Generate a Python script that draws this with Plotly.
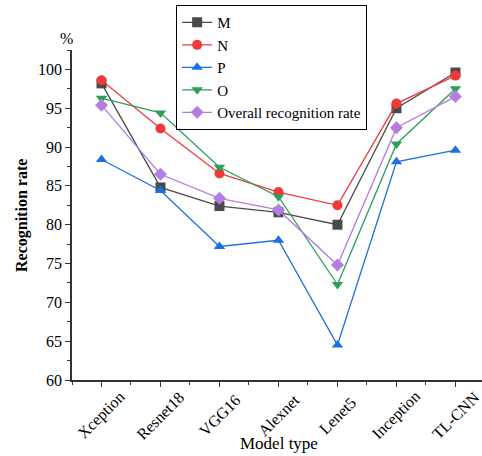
import plotly.graph_objects as go

categories = ["Xception", "Resnet18", "VGG16", "Alexnet", "Lenet5", "Inception", "TL-CNN"]
M = [98.2, 84.8, 82.4, 81.6, 80.0, 95.0, 99.6]
N = [98.6, 92.4, 86.6, 84.2, 82.5, 95.6, 99.2]
P = [88.4, 84.4, 77.2, 78.0, 64.5, 88.1, 89.6]
O = [96.3, 94.4, 87.4, 83.6, 72.3, 90.4, 97.5]
overall = [95.4, 86.5, 83.4, 81.9, 74.8, 92.5, 96.5]
y_ticks = [60, 65, 70, 75, 80, 85, 90, 95, 100]

series = [
    ("M", M, "#4a4a4a", "square"),
    ("N", N, "#f03a3a", "circle"),
    ("P", P, "#1e6fe0", "triangle-up"),
    ("O", O, "#2e9e5b", "triangle-down"),
    ("Overall recognition rate", overall, "#b47ee0", "diamond"),
]

font_family = "Liberation Serif, Times New Roman, serif"
xs = list(range(len(categories)))

fig = go.Figure()
for name, vals, color, sym in series:
    fig.add_trace(go.Scatter(
        x=xs, y=vals, name=name, mode="lines+markers",
        line=dict(color=color, width=1.3),
        marker=dict(symbol=sym, size=10, color=color),
    ))

annotations = []
for i, lab in enumerate(categories):
    annotations.append(dict(
        text=lab, x=i, y=0, xref="x", yref="paper",
        xanchor="center", yanchor="middle", yshift=-35, textangle=-45,
        showarrow=False, font=dict(family=font_family, size=16, color="black"),
    ))
annotations += [
    dict(text="Model type", xref="paper", yref="paper", x=0.505, y=-0.191,
         xanchor="center", yanchor="middle", showarrow=False,
         font=dict(family=font_family, size=17, color="black")),
    dict(text="<b>Recognition rate</b>", xref="paper", yref="paper", x=-0.122, y=0.5,
         xanchor="center", yanchor="middle", textangle=-90, showarrow=False,
         font=dict(family=font_family, size=16, color="black")),
    dict(text="%", xref="paper", yref="paper", x=-0.0146, y=1.036,
         xanchor="center", yanchor="middle", showarrow=False,
         font=dict(family=font_family, size=16, color="black")),
]

fig.update_layout(
    width=482, height=456,
    margin=dict(l=72, r=0, t=50, b=76, autoexpand=False),
    paper_bgcolor="white", plot_bgcolor="white",
    font=dict(family=font_family, size=16, color="black"),
    showlegend=True,
    legend=dict(
        x=0.254, y=1.136, xanchor="left", yanchor="top",
        bordercolor="black", borderwidth=1, bgcolor="white",
        font=dict(family=font_family, size=15, color="black"),
        tracegroupgap=0,
    ),
    xaxis=dict(
        range=[-0.5, 6.45], tickmode="array", tickvals=xs, showticklabels=False,
        automargin=False,
        showline=True, linecolor="#333333", linewidth=1.5,
        ticks="outside", ticklen=5, tickcolor="#333333", showgrid=False, zeroline=False,
        minor=dict(tickvals=[i + 0.5 for i in range(-1, 7)], ticks="outside", ticklen=3, tickcolor="#333333"),
    ),
    yaxis=dict(
        range=[60, 102.5], tickmode="array", tickvals=y_ticks, automargin=False,
        showline=True, linecolor="#333333", linewidth=1.5,
        ticks="outside", ticklen=5, tickcolor="#333333", showgrid=False, zeroline=False,
        minor=dict(tickvals=[62.5 + 5 * i for i in range(9)], ticks="outside", ticklen=3, tickcolor="#333333"),
        tickfont=dict(family=font_family, size=16),
    ),
    annotations=annotations,
)

fig.write_html(
    "out.html",
    config={"displayModeBar": False},
    post_script="document.body.style.margin='0';document.body.style.padding='0';",
)
